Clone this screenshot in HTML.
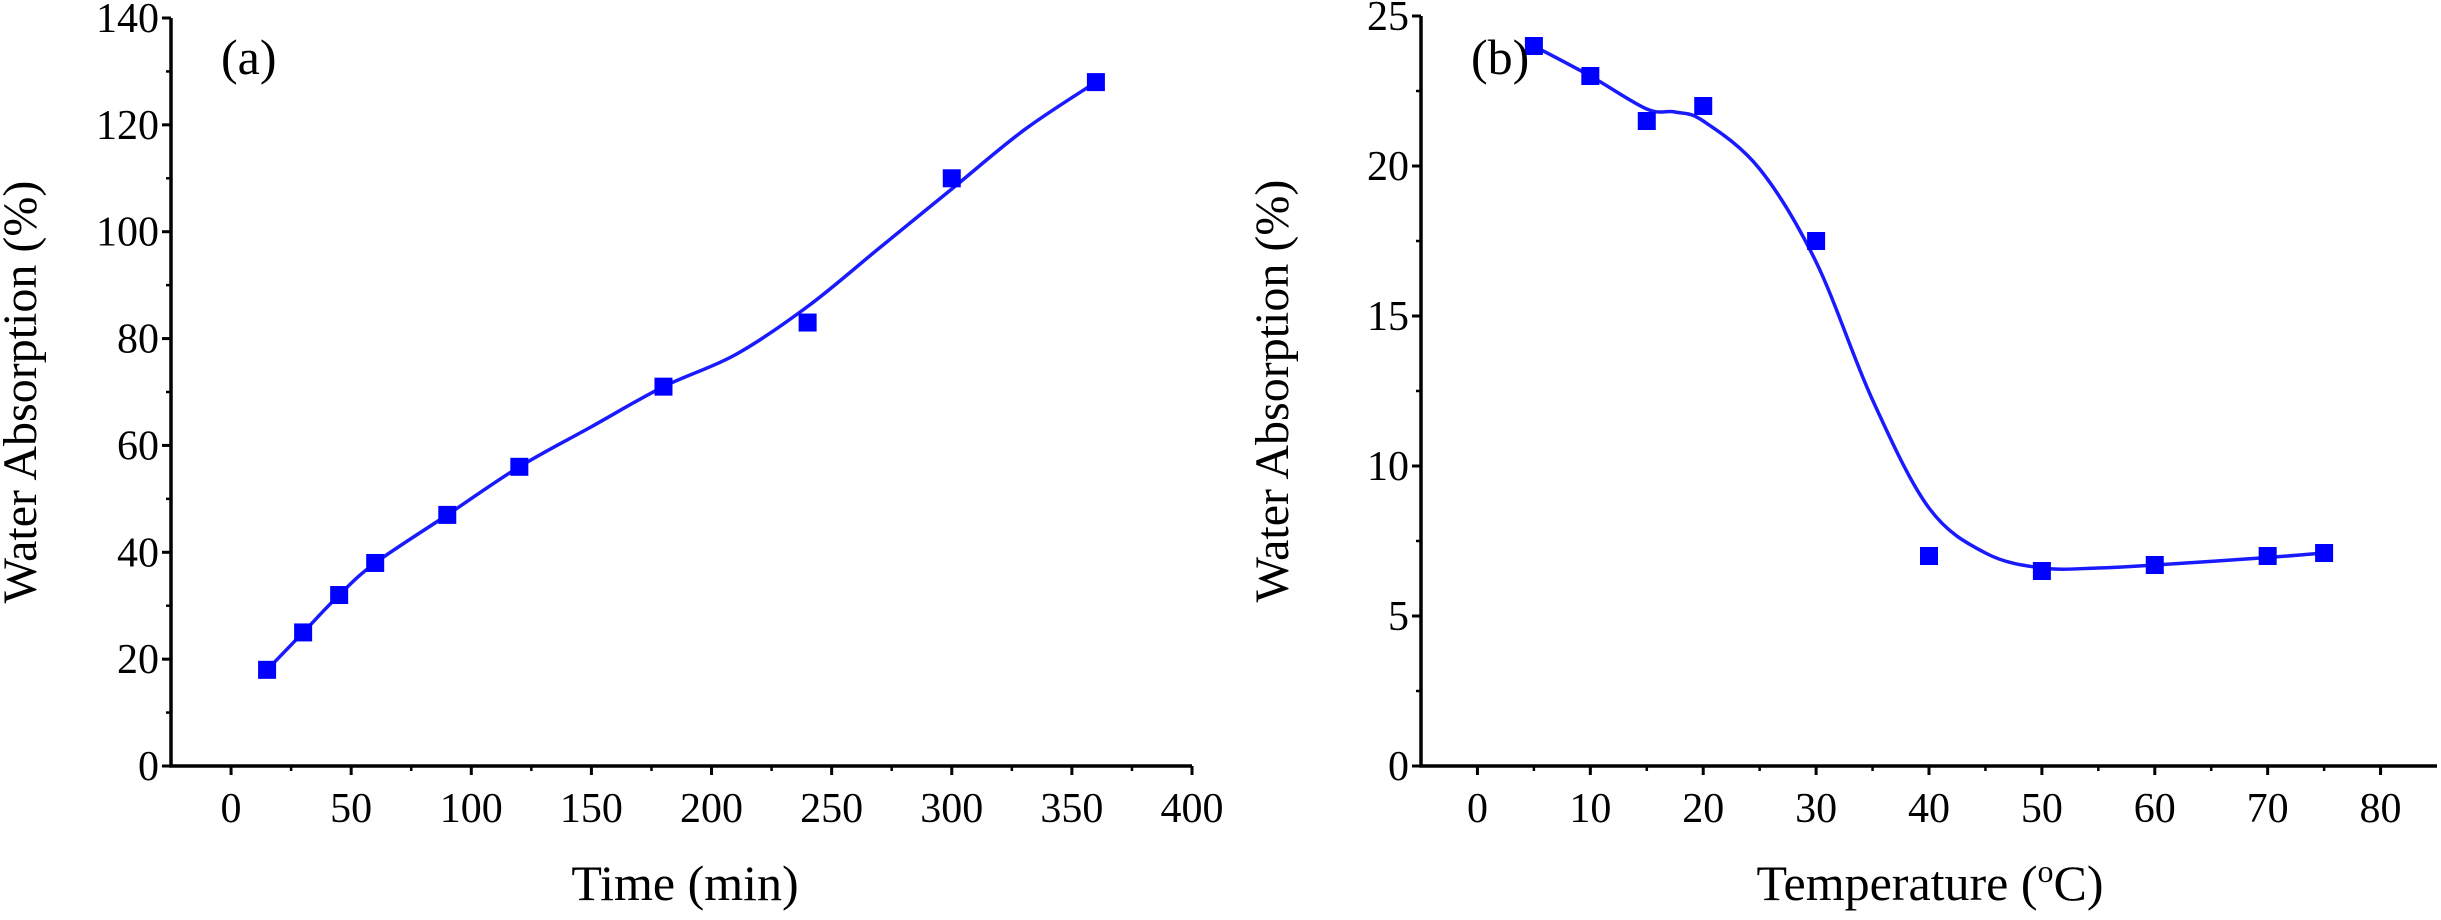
<!DOCTYPE html>
<html><head><meta charset="utf-8"><style>
body{margin:0;background:#fff;}
svg text{font-family:"Liberation Serif",serif;fill:#000;}
</style></head><body>
<svg id="fig" width="2441" height="915" viewBox="0 0 2441 915" xmlns="http://www.w3.org/2000/svg"></svg>
<script>
const aX=[15,30,45,60,90,120,180,240,300,360];
const aY=[18,25,32,38,47,56,71,83,110,128];
const aFitX=[15,30,45,60,90,120,150,180,210,240,270,300,330,360];
const aFitY=[18,25,32,38,47,56,63.5,71,77,86,97,108,119,128];
const aXTicks=[0,50,100,150,200,250,300,350,400];
const aYTicks=[0,20,40,60,80,100,120,140];
const bX=[5,10,15,20,30,40,50,60,70,75];
const bY=[24,23,21.5,22,17.5,7,6.5,6.7,7,7.1];
const bFitX=[5,10,15,17.5,20,25,30,35,40,45,50,55,60,70,75];
const bFitY=[24,23,21.9,21.8,21.5,19.9,16.8,12.2,8.6,7.1,6.6,6.6,6.7,6.95,7.1];
const bXTicks=[0,10,20,30,40,50,60,70,80];
const bYTicks=[0,5,10,15,20,25];

const NS="http://www.w3.org/2000/svg";
const svg=document.getElementById('fig');
function el(t,a,p){const e=document.createElementNS(NS,t);for(const k in a)e.setAttribute(k,a[k]);(p||svg).appendChild(e);return e;}
function spline(pts){let d=`M${pts[0][0]},${pts[0][1]}`;for(let i=0;i<pts.length-1;i++){const p0=pts[Math.max(0,i-1)],p1=pts[i],p2=pts[i+1],p3=pts[Math.min(pts.length-1,i+2)];
const c1=[p1[0]+(p2[0]-p0[0])/6,p1[1]+(p2[1]-p0[1])/6],c2=[p2[0]-(p3[0]-p1[0])/6,p2[1]-(p3[1]-p1[1])/6];d+=` C${c1[0]},${c1[1]} ${c2[0]},${c2[1]} ${p2[0]},${p2[1]}`;}return d;}

function panel(cfg){
  const g=el('g',{});
  
  
  const sx=v=>cfg.L+(v-cfg.xmin)/(cfg.xmax-cfg.xmin)*(cfg.R-cfg.L);
  const sy=v=>cfg.B-(v-cfg.ymin)/(cfg.ymax-cfg.ymin)*(cfg.B-cfg.T);
  const ax=el('path',{d:`M${cfg.L},${cfg.T} L${cfg.L},${cfg.B} L${cfg.R},${cfg.B}`,fill:'none',stroke:'#000','stroke-width':3.5},g);
  
  
  cfg.xt.forEach((v,i)=>{const x=sx(v);
    el('line',{x1:x,x2:x,y1:cfg.B,y2:cfg.B+9,stroke:'#000','stroke-width':3},g);
    if(i<cfg.xt.length-1){const m=sx(v+cfg.xs/2);el('line',{x1:m,x2:m,y1:cfg.B,y2:cfg.B+5,stroke:'#000','stroke-width':2.5},g);}
    const t=el('text',{x:x,y:cfg.B+56,'font-size':42,'text-anchor':'middle'},g);t.textContent=v;
    
    });
  {const m=sx(cfg.xt[0]-cfg.xs/2);if(m>cfg.L)el('line',{x1:m,x2:m,y1:cfg.B,y2:cfg.B+5,stroke:'#000','stroke-width':2.5},g);}
  cfg.yt.forEach((v,i)=>{const y=sy(v);
    el('line',{x1:cfg.L-9,x2:cfg.L,y1:y,y2:y,stroke:'#000','stroke-width':3},g);
    if(i<cfg.yt.length-1){const m=sy(v+cfg.ys/2);el('line',{x1:cfg.L-5,x2:cfg.L,y1:m,y2:m,stroke:'#000','stroke-width':2.5},g);}
    const t=el('text',{x:cfg.L-12,y:y+14,'font-size':42,'text-anchor':'end'},g);t.textContent=v;
    
    });
  const fit=el('path',{d:spline(cfg.fx.map((v,i)=>[sx(v),sy(cfg.fy[i])])),fill:'none',stroke:'#1a1aff','stroke-width':3.5},g);
  
  
  cfg.px.forEach((v,i)=>{const r=el('rect',{x:sx(v)-9,y:sy(cfg.py[i])-9,width:18,height:18,fill:'#0000ff'},g);
    
    });
  const yt=el('text',{x:0,y:0,'font-size':48,'text-anchor':'middle',transform:`translate(${cfg.ytx},${(cfg.T+cfg.B)/2}) rotate(-90)`},g);yt.textContent='Water Absorption (%)';
  
  
  const xtt=el('text',{x:cfg.xtx,y:900,'font-size':50,'text-anchor':'middle'},g);xtt.innerHTML=cfg.xtitle;
  
  
  const pl=el('text',{x:cfg.L+50,y:74,'font-size':50},g);pl.textContent=cfg.label;
  
  
}
panel({name:'chart-a',L:171,R:1192,T:18,B:766,xmin:-25,xmax:400,ymin:0,ymax:140,xt:aXTicks,yt:aYTicks,xs:50,ys:20,px:aX,py:aY,fx:aFitX,fy:aFitY,ytx:36,xtx:685,xtitle:'Time (min)',label:'(a)'});
panel({name:'chart-b',L:1421,R:2437,T:16,B:766,xmin:-5,xmax:85,ymin:0,ymax:25,xt:bXTicks,yt:bYTicks,xs:10,ys:5,px:bX,py:bY,fx:bFitX,fy:bFitY,ytx:1288,xtx:1930,xtitle:'Temperature (<tspan baseline-shift="super" font-size="32">o</tspan>C)',label:'(b)'});
</script>
</body></html>
